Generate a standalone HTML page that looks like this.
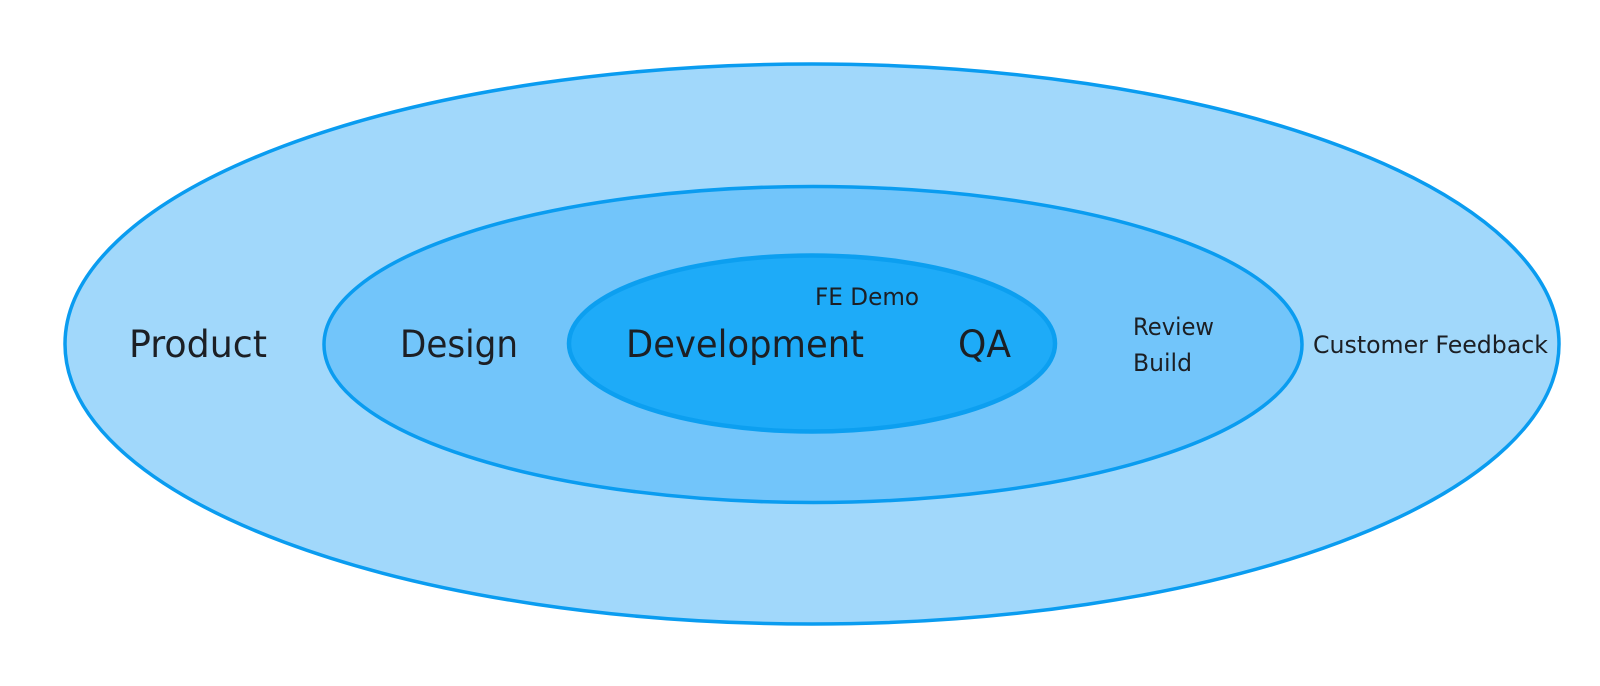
<!DOCTYPE html>
<html>
<head>
<meta charset="utf-8">
<style>
  html, body { margin: 0; padding: 0; background: #ffffff; }
  body { width: 1600px; height: 686px; overflow: hidden; }
  svg { display: block; }
  text { font-family: "DejaVu Sans", "Liberation Sans", sans-serif; fill: #1c1f24; }
</style>
</head>
<body>
<svg width="1600" height="686" viewBox="0 0 1600 686" xmlns="http://www.w3.org/2000/svg">
  <rect x="0" y="0" width="1600" height="686" fill="#ffffff"/>
  <ellipse cx="812" cy="344" rx="747" ry="280" fill="#a1d8fb" stroke="#0a9cf0" stroke-width="3.5"/>
  <ellipse cx="813" cy="344.5" rx="489" ry="158" fill="#72c5fa" stroke="#0a9cf0" stroke-width="3.5"/>
  <ellipse cx="812" cy="343.5" rx="243" ry="88" fill="#1eabf8" stroke="#0c9ff0" stroke-width="4.5"/>

  <text x="129" y="357" font-size="37" textLength="138" lengthAdjust="spacingAndGlyphs">Product</text>
  <text x="400" y="357" font-size="37" textLength="118" lengthAdjust="spacingAndGlyphs">Design</text>
  <text x="626" y="357" font-size="37" textLength="238" lengthAdjust="spacingAndGlyphs">Development</text>
  <text x="958" y="357" font-size="37" textLength="53" lengthAdjust="spacingAndGlyphs">QA</text>

  <text x="815" y="305" font-size="24" textLength="104" lengthAdjust="spacingAndGlyphs">FE Demo</text>
  <text x="1133" y="335" font-size="24" textLength="81" lengthAdjust="spacingAndGlyphs">Review</text>
  <text x="1133" y="371" font-size="24" textLength="59" lengthAdjust="spacingAndGlyphs">Build</text>
  <text x="1313" y="353" font-size="24" textLength="235" lengthAdjust="spacingAndGlyphs">Customer Feedback</text>
</svg>
</body>
</html>
